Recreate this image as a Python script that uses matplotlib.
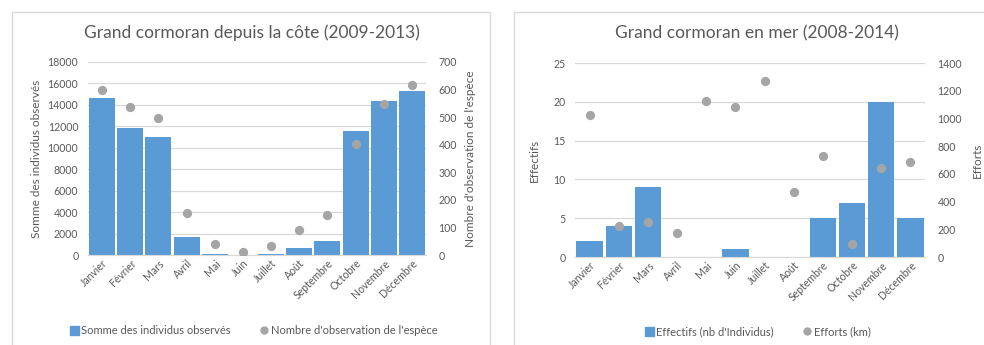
import matplotlib
matplotlib.use("Agg")
import matplotlib.pyplot as plt
from matplotlib.patches import Rectangle
from matplotlib.lines import Line2D
import numpy as np

plt.rcParams['font.family'] = ['Lato', 'DejaVu Sans']

mois = ["Janvier", "Février", "Mars", "Avril", "Mai", "Juin", "Juillet",
        "Août", "Septembre", "Octobre", "Novembre", "Décembre"]

# Côte (2009-2013)
individus_cote = [14600, 11800, 11000, 1650, 100, 30, 80, 620, 1330, 11570, 14370, 15300]
observations_cote = [600, 537, 497, 151, 41, 12, 33, 90, 145, 401, 546, 618]

# Mer (2008-2014)
effectifs_mer = [2, 4, 9, 0, 0, 1, 0, 0, 5, 7, 20, 5]
efforts_mer = [1025, 224, 249, 171, 1128, 1084, 1272, 471, 729, 94, 640, 686]

BLUE = "#5B9BD5"
GREY = "#A5A5A5"
GRID = "#D9D9D9"
TXT = "#595959"

W, H = 984, 345
fig = plt.figure(figsize=(W / 100, H / 100), dpi=100)
fig.patch.set_facecolor("white")


def fx(px):
    return px / W


def fy(py):
    return 1 - py / H


# panel frames
for x0, x1 in [(12, 490), (514, 990)]:
    fig.patches.append(Rectangle((fx(x0), fy(349)), fx(x1 - x0), (349 - 12) / H,
                                 transform=fig.transFigure, fill=False,
                                 edgecolor="#D9D9D9", lw=1.0, zorder=0))


def panel(ax_box, bars, dots, ymax, ystep, y2max, y2step, title, title_xy,
          ylab, ylab_x, y2lab, y2lab_x, leg_labels, leg_xy, bar_w):
    left, top, right, bottom = ax_box
    ax = fig.add_axes([fx(left), fy(bottom), fx(right - left), (bottom - top) / H])
    x = np.arange(len(mois))
    ax.bar(x, bars, width=bar_w, color=BLUE, zorder=2)
    ax.set_xlim(-0.5, len(mois) - 0.5)
    ax.set_ylim(0, ymax)
    ax.set_yticks(np.arange(0, ymax + 1, ystep))
    ax.yaxis.grid(True, color=GRID, lw=0.9, zorder=0)
    ax.set_axisbelow(True)
    for s in ["top", "right", "left"]:
        ax.spines[s].set_visible(False)
    ax.spines["bottom"].set_color(GRID)
    ax.tick_params(axis="y", length=0, labelsize=7.6, labelcolor=TXT, pad=7)
    ax.tick_params(axis="x", length=0, labelsize=7.6, labelcolor=TXT, pad=2)
    ax.set_xticks(x)
    ax.set_xticklabels(mois, rotation=45, ha="right", rotation_mode="anchor")

    ax2 = ax.twinx()
    ax2.set_ylim(0, y2max)
    ax2.set_yticks(np.arange(0, y2max + 1, y2step))
    ax2.scatter(x, dots, s=32, color=GREY, zorder=4)
    for s in ax2.spines.values():
        s.set_visible(False)
    ax2.tick_params(axis="y", length=0, labelsize=7.6, labelcolor=TXT, pad=9)

    fig.text(fx(title_xy[0]), fy(title_xy[1]), title, ha="center", va="center",
             fontsize=12.5, color=TXT)
    cy = fy((top + bottom) / 2)
    fig.text(fx(ylab_x), cy, ylab, rotation=90, ha="center", va="center",
             fontsize=8.5, color=TXT)
    fig.text(fx(y2lab_x), cy, y2lab, rotation=90, ha="center", va="center",
             fontsize=8.5, color=TXT)

    handles = [Rectangle((0, 0), 1, 1, color=BLUE),
               Line2D([], [], marker="o", ls="none", color=GREY, markersize=5)]
    fig.legend(handles, leg_labels, loc="center", ncol=2,
               bbox_to_anchor=(fx(leg_xy[0]), fy(leg_xy[1])), frameon=False,
               fontsize=8, labelcolor=TXT, handlelength=0.8, handleheight=0.9,
               handletextpad=0.2, columnspacing=2.6)
    return ax


panel((88, 62, 426, 255), individus_cote, observations_cote, 18000, 2000, 700, 100,
      "Grand cormoran depuis la côte (2009-2013)", (252, 33),
      "Somme des individus observés", 37,
      "Nombre d'observation de l'espèce", 470,
      ["Somme des individus observés", "Nombre d'observation de l'espèce"], (254, 331),
      0.92)

panel((575, 63, 925, 257), effectifs_mer, efforts_mer, 25, 5, 1400, 200,
      "Grand cormoran en mer (2008-2014)", (757, 33),
      "Effectifs", 534,
      "Efforts", 977,
      ["Effectifs (nb d'Individus)", "Efforts (km)"], (758, 332),
      0.9)

fig.savefig("out.png", dpi=100, facecolor="white")
